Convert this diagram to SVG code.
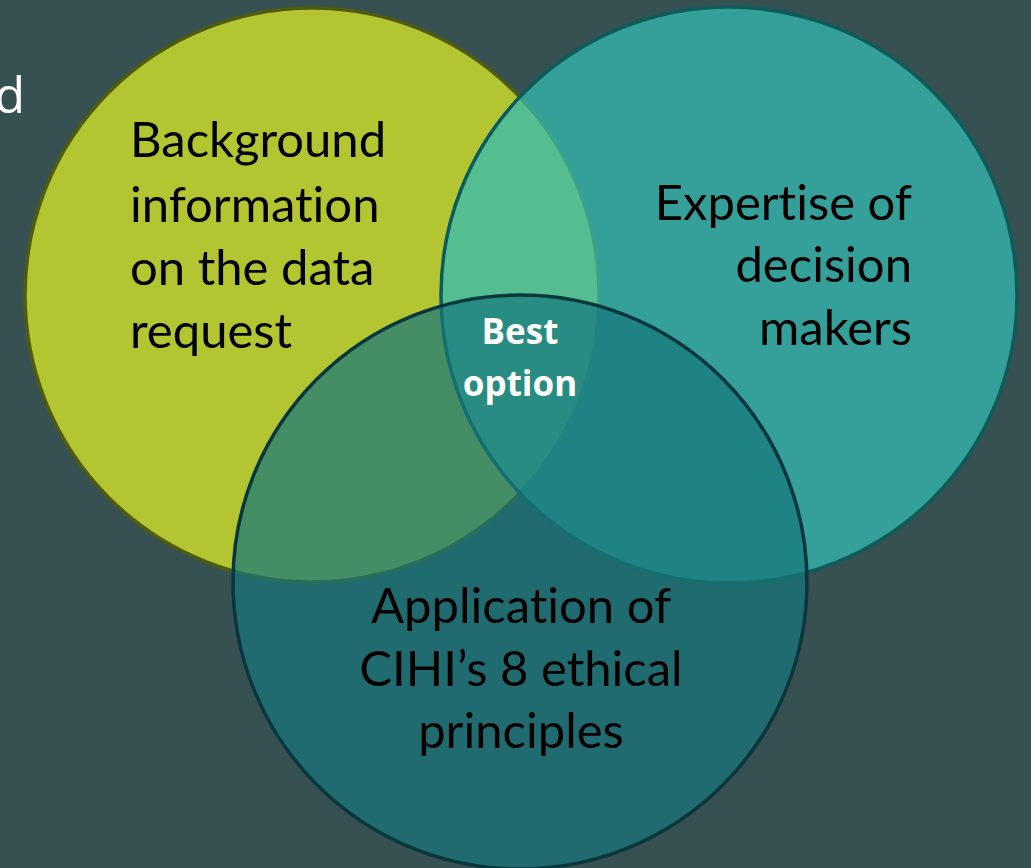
<svg xmlns="http://www.w3.org/2000/svg" width="1031" height="868" viewBox="0 0 1031 868">
  <style>
    .lbl { font-family: Lato, "Open Sans", "Liberation Sans", sans-serif; font-size: 49px; fill: #000000; font-variant-ligatures: none; }
    .best { font-family: "Open Sans", Lato, "Liberation Sans", sans-serif; font-size: 35px; font-weight: bold; fill: #ffffff; }
    .side { font-family: "Open Sans", "Liberation Sans", sans-serif; font-size: 50px; fill: #ffffff; }
  </style>
  <rect x="0" y="0" width="1031" height="868" fill="#375052"/>
  <text class="side" x="25" y="113" text-anchor="end">d</text>
  <g id="circle-background">
    <circle cx="312" cy="295" r="287" fill="#b3c530" stroke="#4f5b0f" stroke-width="3.5"/>
  </g>
  <g id="circle-expertise">
    <circle cx="729" cy="295" r="288" fill="#34bcb3" fill-opacity="0.74" stroke="#0e5c5a" stroke-width="3.5"/>
  </g>
  <g id="circle-principles">
    <circle cx="520" cy="582" r="287" fill="#17767c" fill-opacity="0.7" stroke="#0a363d" stroke-width="3.5"/>
  </g>
  <g id="labels">
    <text class="lbl" x="130" y="157">Background</text>
    <text class="lbl" x="130" y="222">information</text>
    <text class="lbl" x="130" y="285">on the data</text>
    <text class="lbl" x="130" y="348">request</text>
    <text class="lbl" x="912" y="220" text-anchor="end">Expertise of</text>
    <text class="lbl" x="912" y="282" text-anchor="end">decision</text>
    <text class="lbl" x="912" y="345" text-anchor="end">makers</text>
    <text class="lbl" x="521" y="623" text-anchor="middle">Application of</text>
    <text class="lbl" x="521" y="686" text-anchor="middle">CIHI’s 8 ethical</text>
    <text class="lbl" x="521" y="748" text-anchor="middle">principles</text>
    <text class="best" x="520" y="344" text-anchor="middle">Best</text>
    <text class="best" x="520" y="396" text-anchor="middle">option</text>
  </g>
</svg>
